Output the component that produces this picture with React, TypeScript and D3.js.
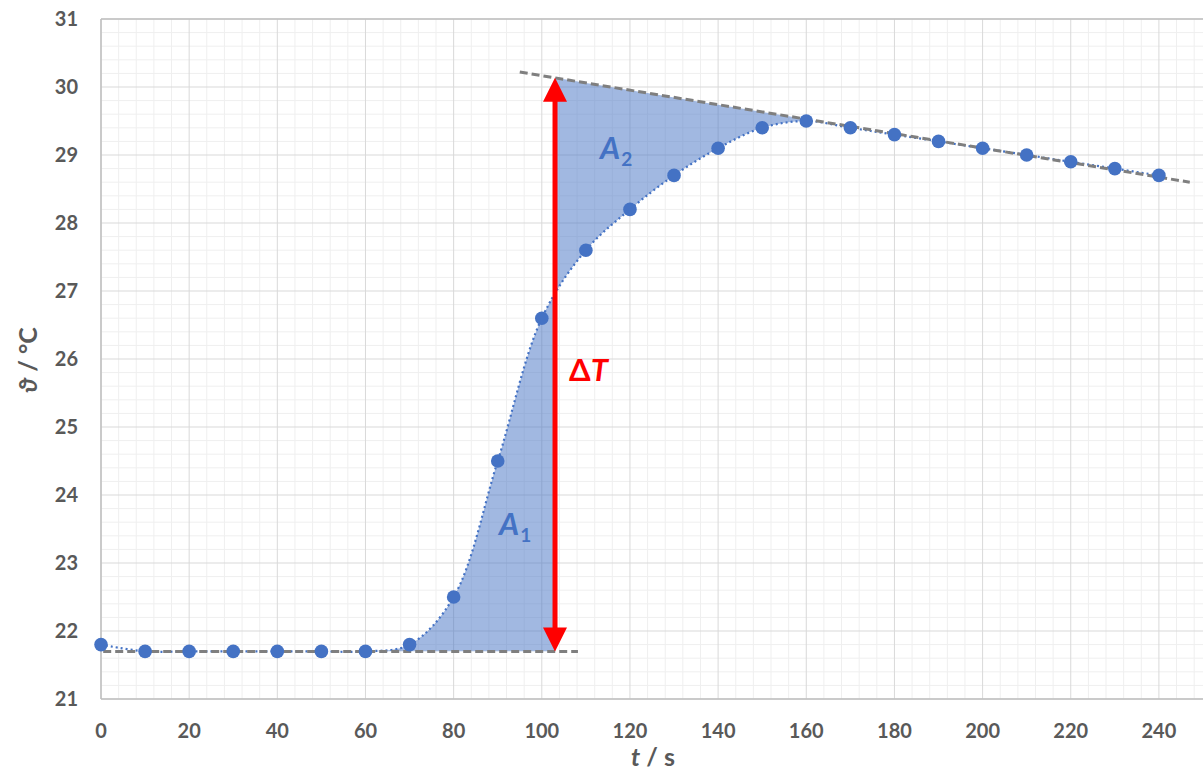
import React from "react";
import * as d3 from "d3";

const times = [0, 10, 20, 30, 40, 50, 60, 70, 80, 90, 100, 110, 120, 130, 140, 150, 160, 170, 180, 190, 200, 210, 220, 230, 240];
const temps = [21.8, 21.7, 21.7, 21.7, 21.7, 21.7, 21.7, 21.8, 22.5, 24.5, 26.6, 27.6, 28.2, 28.7, 29.1, 29.4, 29.5, 29.4, 29.3, 29.2, 29.1, 29.0, 28.9, 28.8, 28.7];
const xTicks = [0, 20, 40, 60, 80, 100, 120, 140, 160, 180, 200, 220, 240];
const yTicks = [21, 22, 23, 24, 25, 26, 27, 28, 29, 30, 31];
// fore-period baseline (t start, t end, temperature)
const baseT = [0.5, 108.2];
const baseTemp = 21.7;
// after-period extrapolation line (two end points)
const upperT = [95, 247];
const upperTemp = [30.22, 28.6];
// position of the ΔT arrow
const arrowTime = 103;
const a2End = 160;
const a1Start = 60;

const W = 1203;
const H = 771;

export default function App() {
  const x = d3.scaleLinear().domain([0, 250]).range([101, 1203]);
  const y = d3.scaleLinear().domain([21, 31]).range([699, 19]);
  const pts = times.map((t, i) => ({ t, v: temps[i] }));
  const upperAt = (t: number) =>
    upperTemp[0] + ((upperTemp[1] - upperTemp[0]) * (t - upperT[0])) / (upperT[1] - upperT[0]);

  const curve = d3.curveCatmullRom.alpha(0.5);
  const linePath = d3
    .line<{ t: number; v: number }>()
    .x((d) => x(d.t))
    .y((d) => y(d.v))
    .curve(curve)(pts) as string;

  const area1 = d3
    .area<{ t: number; v: number }>()
    .x((d) => x(d.t))
    .y0(() => y(baseTemp))
    .y1((d) => y(d.v))
    .curve(curve)(pts) as string;

  const area2 = d3
    .area<{ t: number; v: number }>()
    .x((d) => x(d.t))
    .y0((d) => y(d.v))
    .y1((d) => y(upperAt(d.t)))
    .curve(curve)(pts) as string;

  const minorX = d3.range(0, 251, 4).filter((v) => v % 20 !== 0);
  const minorY = d3.range(21, 31.001, 0.2).filter((v) => Math.abs(v - Math.round(v)) > 1e-6);

  const ax = x(arrowTime);
  const yTop = y(upperAt(arrowTime));
  const yBot = y(baseTemp);
  const headL = 24;
  const headW = 12;

  const font = "Lato, 'Open Sans', sans-serif";
  const grey = "#595959";

  return (
    <svg width={W} height={H} style={{ position: "absolute", left: 0, top: 0, background: "#fff" }} fontFamily={font}>
      <defs>
        <clipPath id="c1">
          <rect x={x(a1Start)} y={0} width={ax - x(a1Start)} height={yBot} />
        </clipPath>
        <clipPath id="c2">
          <rect x={ax} y={0} width={x(a2End) - ax} height={H} />
        </clipPath>
        <clipPath id="plot">
          <rect x={101} y={19} width={1102} height={680} />
        </clipPath>
      </defs>
      {/* minor grid */}
      {minorX.map((v) => (
        <line key={"mx" + v} x1={x(v)} x2={x(v)} y1={19} y2={699} stroke="#efefef" strokeWidth={1} />
      ))}
      {minorY.map((v) => (
        <line key={"my" + v} x1={101} x2={1203} y1={y(v)} y2={y(v)} stroke="#efefef" strokeWidth={1} />
      ))}
      {/* major grid */}
      {xTicks.map((v) => (
        <line key={"gx" + v} x1={x(v)} x2={x(v)} y1={19} y2={699} stroke="#d9d9d9" strokeWidth={1} />
      ))}
      {yTicks.map((v) => (
        <line key={"gy" + v} x1={101} x2={1203} y1={y(v)} y2={y(v)} stroke="#d9d9d9" strokeWidth={1} />
      ))}
      {/* axes / border */}
      <line x1={101} x2={1203} y1={19} y2={19} stroke="#bfbfbf" strokeWidth={1.5} />
      <line x1={101} x2={101} y1={19} y2={699} stroke="#bfbfbf" strokeWidth={1.5} />
      <line x1={101} x2={1203} y1={699} y2={699} stroke="#bfbfbf" strokeWidth={1.5} />

      {/* areas */}
      <path d={area1} fill="#4472c4" fillOpacity={0.5} clipPath="url(#c1)" />
      <path d={area2} fill="#4472c4" fillOpacity={0.5} clipPath="url(#c2)" />

      {/* dotted smoothed curve */}
      <path d={linePath} fill="none" stroke="#4472c4" strokeWidth={2.2} strokeDasharray="2 3" clipPath="url(#plot)" />

      {/* dashed extrapolation lines */}
      <line x1={x(baseT[0])} x2={x(baseT[1])} y1={y(baseTemp)} y2={y(baseTemp)} stroke="#7f7f7f" strokeWidth={3} strokeDasharray="8 4" />
      <line x1={x(upperT[0])} x2={x(upperT[1])} y1={y(upperTemp[0])} y2={y(upperTemp[1])} stroke="#7f7f7f" strokeWidth={3} strokeDasharray="8 4" />

      {/* points */}
      {pts.map((d) => (
        <circle key={"p" + d.t} cx={x(d.t)} cy={y(d.v)} r={6.8} fill="#4472c4" />
      ))}

      {/* arrow */}
      <line x1={ax} x2={ax} y1={yTop + headL - 2} y2={yBot - headL + 2} stroke="#ff0000" strokeWidth={5} />
      <path d={`M${ax},${yTop} L${ax - headW},${yTop + headL} L${ax + headW},${yTop + headL} Z`} fill="#ff0000" />
      <path d={`M${ax},${yBot} L${ax - headW},${yBot - headL} L${ax + headW},${yBot - headL} Z`} fill="#ff0000" />

      {/* labels */}
      <text x={569} y={381} fill="#ff0000" fontSize={31} fontWeight="bold">
        Δ<tspan fontStyle="italic">T</tspan>
      </text>
      <text x={600} y={159} fill="#4472c4" fontSize={31} fontWeight="bold">
        <tspan fontStyle="italic">A</tspan>
        <tspan fontSize={19} dy={7} dx={1}>2</tspan>
      </text>
      <text x={499} y={535} fill="#4472c4" fontSize={31} fontWeight="bold">
        <tspan fontStyle="italic">A</tspan>
        <tspan fontSize={19} dy={7} dx={1}>1</tspan>
      </text>

      {/* tick labels */}
      {yTicks.map((v) => (
        <text key={"yl" + v} x={78} y={y(v)} dy="0.35em" textAnchor="end" fill={grey} fontSize={20} fontWeight="bold">
          {v}
        </text>
      ))}
      {xTicks.map((v) => (
        <text key={"xl" + v} x={x(v)} y={738} textAnchor="middle" fill={grey} fontSize={20} fontWeight="bold">
          {v}
        </text>
      ))}

      {/* axis titles */}
      <text x={653} y={766} textAnchor="middle" fill={grey} fontSize={25} fontWeight="bold">
        <tspan fontStyle="italic">t</tspan> / s
      </text>
      <text transform="translate(37,360) rotate(-90)" textAnchor="middle" fill={grey} fontSize={25} fontWeight="bold">
        <tspan fontStyle="italic">ϑ</tspan> / °C
      </text>
    </svg>
  );
}
